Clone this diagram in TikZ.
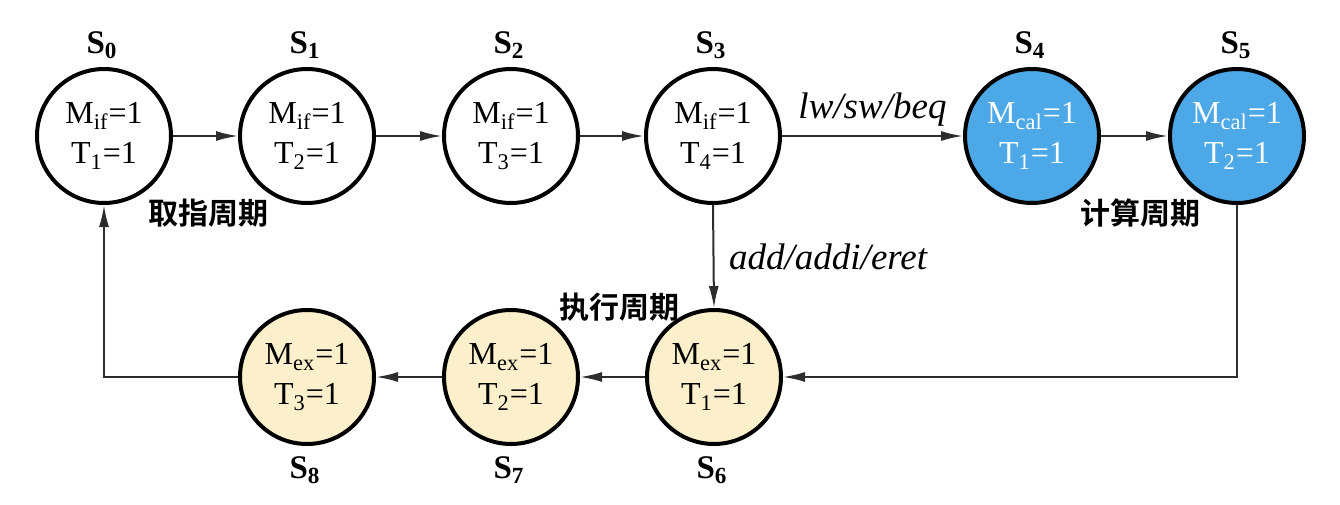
\documentclass[tikz,border=0pt]{standalone}
\usepackage{fontspec}
\setmainfont{Liberation Serif}
\newfontfamily\cjk{Noto Sans CJK SC}[BoldFont={Noto Sans CJK SC Bold}]
\usetikzlibrary{arrows.meta}
\definecolor{calblue}{RGB}{76,168,230}
\definecolor{exyellow}{RGB}{252,240,204}
\definecolor{linegray}{RGB}{45,45,45}
\begin{document}
\begin{tikzpicture}[x=0.5pt,y=-0.5pt,
  state/.style={circle,draw=black,line width=2pt,minimum size=67pt,inner sep=0pt,
    align=center,font=\fontsize{16}{20}\selectfont},
  ifst/.style={state,fill=white},
  calst/.style={state,fill=calblue,text=white},
  exst/.style={state,fill=exyellow},
  slabel/.style={font=\fontsize{16.5}{18}\selectfont\bfseries},
  phase/.style={font=\cjk\bfseries\fontsize{15}{17}\selectfont},
  elabel/.style={font=\fontsize{18.5}{20}\selectfont\itshape},
  conn/.style={draw=linegray,line width=1pt,-{Latex[length=11pt,width=5pt]}}
]
\useasboundingbox (0,0) rectangle (1340,504);
\node[ifst] (s0) at (104,136) {M\textsubscript{if}=1\\T\textsubscript{1}=1};
\node[ifst] (s1) at (307,136) {M\textsubscript{if}=1\\T\textsubscript{2}=1};
\node[ifst] (s2) at (511,136) {M\textsubscript{if}=1\\T\textsubscript{3}=1};
\node[ifst] (s3) at (713,136) {M\textsubscript{if}=1\\T\textsubscript{4}=1};
\node[calst] (s4) at (1032,136) {M\textsubscript{cal}=1\\T\textsubscript{1}=1};
\node[calst] (s5) at (1237,136) {M\textsubscript{cal}=1\\T\textsubscript{2}=1};
\node[exst] (s6) at (714,377) {M\textsubscript{ex}=1\\T\textsubscript{1}=1};
\node[exst] (s7) at (511,377) {M\textsubscript{ex}=1\\T\textsubscript{2}=1};
\node[exst] (s8) at (307,377) {M\textsubscript{ex}=1\\T\textsubscript{3}=1};

\node[slabel] (l0) at (102,45) {S\textsubscript{0}};
\node[slabel] (l1) at (305,45) {S\textsubscript{1}};
\node[slabel] (l2) at (509,45) {S\textsubscript{2}};
\node[slabel] (l3) at (711,45) {S\textsubscript{3}};
\node[slabel] (l4) at (1030,45) {S\textsubscript{4}};
\node[slabel] (l5) at (1236,45) {S\textsubscript{5}};
\node[slabel] (l6) at (712,470) {S\textsubscript{6}};
\node[slabel] (l7) at (509,470) {S\textsubscript{7}};
\node[slabel] (l8) at (305,470) {S\textsubscript{8}};

\node[phase] (p1) at (208,213) {取指周期};
\node[phase] (p2) at (1140,213) {计算周期};
\node[phase] (p3) at (619,307) {执行周期};

\draw[conn] (s0) -- (s1);
\draw[conn] (s1) -- (s2);
\draw[conn] (s2) -- (s3);
\draw[conn] (s3) -- node[elabel,above=1pt] (e1) {lw/sw/beq} (s4);
\draw[conn] (s4) -- (s5);
\draw[conn] (s3.south) -- node[elabel,right=4pt] (e2) {add/addi/eret} (s6.north);
\draw[conn] (s5.south) |- (s6.east);
\draw[conn] (s6) -- (s7);
\draw[conn] (s7) -- (s8);
\draw[conn] (s8.west) -| (s0.south);
\end{tikzpicture}
\end{document}
